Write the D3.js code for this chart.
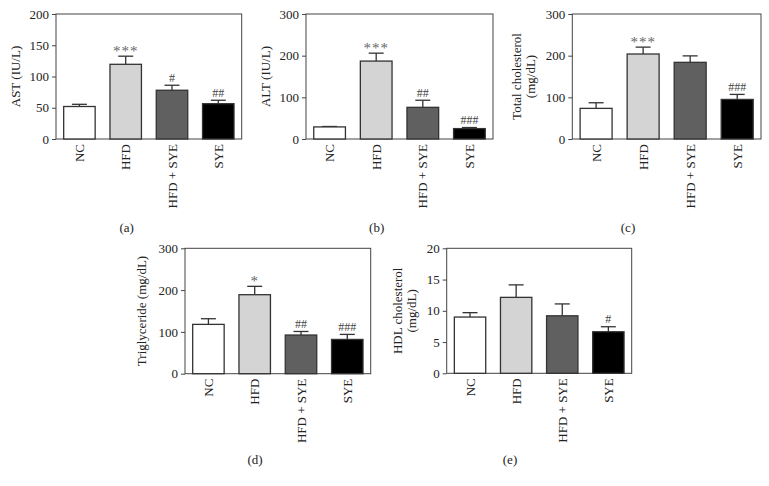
<!DOCTYPE html>
<html><head><meta charset="utf-8">
<script src="https://cdn.jsdelivr.net/npm/d3@7"></script>
<style>body{margin:0;background:#fff}svg{display:block}text{font-family:"Liberation Serif","Times New Roman",serif}</style>
</head><body><svg id="c" width="769" height="486"></svg>
<script>
const categories = ["NC", "HFD", "HFD + SYE", "SYE"];
const barColors = ["#ffffff", "#d4d4d4", "#606060", "#000000"];

const astValues = [52, 119.5, 78, 56.5];
const astErrors = [3.5, 13, 8, 5.5];
const astMarks = ["", "***", "#", "##"];
const astTicks = [0, 50, 100, 150, 200];

const altValues = [29, 187, 76, 25];
const altErrors = [1, 19, 17, 2.5];
const altMarks = ["", "***", "##", "###"];
const altTicks = [0, 100, 200, 300];

const tcValues = [73.5, 204, 184, 95];
const tcErrors = [13.5, 16.5, 15.5, 12];
const tcMarks = ["", "***", "", "###"];
const tcTicks = [0, 100, 200, 300];

const tgValues = [118, 189, 92.5, 82];
const tgErrors = [13.5, 20, 8.5, 12];
const tgMarks = ["", "*", "##", "###"];
const tgTicks = [0, 100, 200, 300];

const hdlValues = [9.0, 12.15, 9.2, 6.65];
const hdlErrors = [0.7, 2.0, 1.9, 0.8];
const hdlMarks = ["", "", "", "#"];
const hdlTicks = [0, 5, 10, 15, 20];

const panels = [
  {values: astValues, errors: astErrors, marks: astMarks, ticks: astTicks, title: ["AST (IU/L)"], label: "(a)",
   box: [56, 14, 241.7, 139], titleX: [19.5], labelPos: [126.7, 232]},
  {values: altValues, errors: altErrors, marks: altMarks, ticks: altTicks, title: ["ALT (IU/L)"], label: "(b)",
   box: [306, 14, 493, 139], titleX: [269.5], labelPos: [376.7, 232]},
  {values: tcValues, errors: tcErrors, marks: tcMarks, ticks: tcTicks, title: ["Total cholesterol", "(mg/dL)"], label: "(c)",
   box: [572.3, 14, 761, 139], titleX: [521, 535], labelPos: [628, 232]},
  {values: tgValues, errors: tgErrors, marks: tgMarks, ticks: tgTicks, title: ["Triglyceride (mg/dL)"], label: "(d)",
   box: [185, 248.3, 370.7, 373.7], titleX: [146], labelPos: [255, 464]},
  {values: hdlValues, errors: hdlErrors, marks: hdlMarks, ticks: hdlTicks, title: ["HDL cholesterol", "(mg/dL)"], label: "(e)",
   box: [446.7, 248.3, 631.7, 373.3], titleX: [401.5, 415.5], labelPos: [510, 464]}
];

const svg = d3.select("#c");
const ink = "#333";

panels.forEach(p => {
  const [x0, y0, x1, y1] = p.box;
  const x = d3.scaleBand().domain(categories).range([x0, x1]).paddingInner(0.32).paddingOuter(0.166);
  const y = d3.scaleLinear().domain([0, d3.max(p.ticks)]).range([y1, y0]);
  const g = svg.append("g");

  g.append("rect").attr("x", x0).attr("y", y0).attr("width", x1 - x0).attr("height", y1 - y0)
    .attr("fill", "none").attr("stroke", "#444").attr("stroke-width", 1);

  const data = categories.map((c, i) => ({c, v: p.values[i], e: p.errors[i], m: p.marks[i], col: barColors[i]}));
  const bw = x.bandwidth();
  data.forEach(d => {
    const cx = x(d.c) + bw / 2;
    g.append("line").attr("x1", cx).attr("x2", cx).attr("y1", y(d.v)).attr("y2", y(d.v + d.e))
      .attr("stroke", ink).attr("stroke-width", 1.3);
    g.append("line").attr("x1", cx - 7.5).attr("x2", cx + 7.5).attr("y1", y(d.v + d.e)).attr("y2", y(d.v + d.e))
      .attr("stroke", ink).attr("stroke-width", 1.3);
  });
  g.selectAll(".bar").data(data).join("rect")
    .attr("x", d => x(d.c)).attr("y", d => y(d.v))
    .attr("width", bw).attr("height", d => y(0) - y(d.v))
    .attr("fill", d => d.col).attr("stroke", ink).attr("stroke-width", 1.3);

  g.selectAll(".mk").data(data.filter(d => d.m)).join("text")
    .attr("x", d => x(d.c) + bw / 2)
    .attr("y", d => y(d.v + d.e) - (d.m.startsWith("*") ? 0 : 3.5))
    .attr("text-anchor", "middle")
    .attr("font-size", d => d.m.startsWith("*") ? 15 : 12)
    .attr("fill", d => d.m.startsWith("*") ? "#666" : "#444")
    .attr("letter-spacing", d => d.m.startsWith("*") ? 1 : 0)
    .text(d => d.m);

  const ya = g.append("g").attr("transform", `translate(${x0},0)`)
    .call(d3.axisLeft(y).tickValues(p.ticks).tickSize(4).tickPadding(3).tickFormat(d3.format("d")));
  ya.select(".domain").remove();
  ya.selectAll("line").attr("stroke", "#444");
  ya.selectAll("text").attr("font-size", 13).attr("fill", "#222");

  data.forEach(d => {
    const cx = x(d.c) + bw / 2;
    g.append("text").attr("transform", `translate(${cx},${y1 + 5}) rotate(-90)`)
      .attr("text-anchor", "end").attr("dy", "0.35em").attr("font-size", 13).attr("fill", "#222")
      .text(d.c);
  });

  p.title.forEach((t, i) => {
    g.append("text").attr("transform", `translate(${p.titleX[i]},${(y0 + y1) / 2}) rotate(-90)`)
      .attr("text-anchor", "middle").attr("font-size", 13).attr("fill", "#222")
      .text(t);
  });

  g.append("text").attr("x", p.labelPos[0]).attr("y", p.labelPos[1])
    .attr("text-anchor", "middle").attr("font-size", 13).attr("fill", "#222").text(p.label);
});
</script></body></html>
